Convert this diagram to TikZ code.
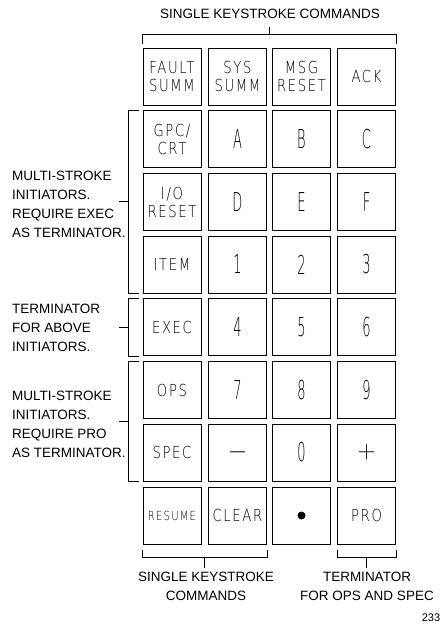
\documentclass[tikz,border=0pt]{standalone}
\usepackage{fontspec}
\setmainfont{Liberation Sans}
\newfontfamily\keyf{DejaVu Sans ExtraLight}[FakeStretch=0.8,LetterSpace=10]
\newfontfamily\bigf{DejaVu Sans ExtraLight}[FakeStretch=0.5]
\usetikzlibrary{calc}
\begin{document}
\begin{tikzpicture}[x=1pt,y=-1pt,
  key/.style={draw,line width=1pt,minimum width=58pt,minimum height=57pt,inner sep=0pt,align=center,
    font=\keyf\fontsize{16.5}{18}\selectfont},
  bigkey/.style={key,font=\bigf\fontsize{26}{26}\selectfont},
  smallkey/.style={key,font=\keyf\fontsize{12.5}{14}\selectfont},
  mathkey/.style={key,font=\fontsize{27}{27}\selectfont},
  brk/.style={line width=1pt},
  lbl/.style={font=\fontsize{13.5}{19}\selectfont,inner sep=0pt}]
\useasboundingbox (0,0) rectangle (441,624);
% row 1
\node[key] (fault) at (172,76.5) {FAULT\\SUMM};
\node[key] (sys) at (237.5,76.5) {SYS\\SUMM};
\node[key] (msg) at (301.5,76.5) {MSG\\RESET};
\node[key] (ack) at (366.5,76.5) {ACK};
% row 2
\node[key] (gpc) at (172,139) {GPC/\\CRT};
\node[bigkey] (ka) at (237.5,139) {A};
\node[bigkey] (kb) at (301.5,139) {B};
\node[bigkey] (kc) at (366.5,139) {C};
% row 3
\node[key] (io) at (172,202) {I/O\\RESET};
\node[bigkey] (kd) at (237.5,202) {D};
\node[bigkey] (ke) at (301.5,202) {E};
\node[bigkey] (kf) at (366.5,202) {F};
% row 4
\node[key] (item) at (172,264.5) {ITEM};
\node[bigkey] (k1) at (237.5,264.5) {1};
\node[bigkey] (k2) at (301.5,264.5) {2};
\node[bigkey] (k3) at (366.5,264.5) {3};
% row 5
\node[key] (exec) at (172,327) {EXEC};
\node[bigkey] (k4) at (237.5,327) {4};
\node[bigkey] (k5) at (301.5,327) {5};
\node[bigkey] (k6) at (366.5,327) {6};
% row 6
\node[key] (ops) at (172,390) {OPS};
\node[bigkey] (k7) at (237.5,390) {7};
\node[bigkey] (k8) at (301.5,390) {8};
\node[bigkey] (k9) at (366.5,390) {9};
% row 7
\node[key] (spec) at (172,452.5) {SPEC};
\node[mathkey] (kminus) at (237.5,452.5) {$-$};
\node[bigkey] (k0) at (301.5,452.5) {0};
\node[mathkey] (kplus) at (366.5,452.5) {$+$};
% row 8
\node[smallkey] (resume) at (172,515.5) {RESUME};
\node[key] (clear) at (237.5,515.5) {CLEAR};
\node[key] (kdot) at (301.5,515.5) {};
\fill (kdot.center) circle (4);
\node[key] (pro) at (366.5,515.5) {PRO};

% top bracket
\coordinate (tb1) at ([yshift=4pt]fault.north west);
\coordinate (tb2) at ([yshift=4pt]ack.north east);
\draw[brk] (tb1) -- ++(0,-9) -| (tb2);
\coordinate (tbm) at ($(tb1)!0.5!(tb2)+(0,-9)$);
\coordinate (tbt) at ($(tbm)+(0,-8)$);
\draw[brk] (tbm) -- (tbt);
\node[lbl] (title) at (270,14) {SINGLE KEYSTROKE COMMANDS};

% left bracket 1
\coordinate (l1a) at ([xshift=-4pt]gpc.north west);
\coordinate (l1b) at ([xshift=-4pt]item.south west);
\draw[brk] (l1a) -- ++(-10,0) |- (l1b);
\coordinate (l1m) at ($(l1a)!0.5!(l1b)+(-10,0)$);
\coordinate (l1t) at ($(l1m)+(-10,0)$);
\draw[brk] (l1m) -- (l1t);
\node[lbl,anchor=west,align=left] (lab1) at (12,204) {MULTI-STROKE\\INITIATORS.\\REQUIRE EXEC\\AS TERMINATOR.};

% left bracket 2
\coordinate (l2a) at ([xshift=-4pt]exec.north west);
\coordinate (l2b) at ([xshift=-4pt]exec.south west);
\draw[brk] (l2a) -- ++(-10,0) |- (l2b);
\coordinate (l2m) at ($(l2a)!0.5!(l2b)+(-10,0)$);
\coordinate (l2t) at ($(l2m)+(-10,0)$);
\draw[brk] (l2m) -- (l2t);
\node[lbl,anchor=west,align=left] (lab2) at (12,328) {TERMINATOR\\FOR ABOVE\\INITIATORS.};

% left bracket 3
\coordinate (l3a) at ([xshift=-4pt]ops.north west);
\coordinate (l3b) at ([xshift=-4pt]spec.south west);
\draw[brk] (l3a) -- ++(-10,0) |- (l3b);
\coordinate (l3m) at ($(l3a)!0.5!(l3b)+(-10,0)$);
\coordinate (l3t) at ($(l3m)+(-10,0)$);
\draw[brk] (l3m) -- (l3t);
\node[lbl,anchor=west,align=left] (lab3) at (12,424) {MULTI-STROKE\\INITIATORS.\\REQUIRE PRO\\AS TERMINATOR.};

% bottom left bracket
\coordinate (b1a) at ([yshift=-5pt]resume.south west);
\coordinate (b1b) at ([yshift=-5pt]clear.south east);
\draw[brk] (b1a) -- ++(0,8) -| (b1b);
\coordinate (b1m) at ($(b1a)!0.5!(b1b)+(0,8)$);
\coordinate (b1t) at ($(b1m)+(0,10)$);
\draw[brk] (b1m) -- (b1t);
\node[lbl,align=center] (lab4) at (206,586.5) {SINGLE KEYSTROKE\\COMMANDS};

% bottom right bracket
\coordinate (b2a) at ([yshift=-5pt]pro.south west);
\coordinate (b2b) at ([yshift=-5pt]pro.south east);
\draw[brk] (b2a) -- ++(0,8) -| (b2b);
\coordinate (b2m) at ($(b2a)!0.5!(b2b)+(0,8)$);
\coordinate (b2t) at ($(b2m)+(0,10)$);
\draw[brk] (b2m) -- (b2t);
\node[lbl,align=center] (lab5) at (367,586.5) {TERMINATOR\\FOR OPS AND SPEC};

\node[font=\fontsize{11}{11}\selectfont,inner sep=0pt] (fig) at (431,617.5) {233};
\end{tikzpicture}
\end{document}
